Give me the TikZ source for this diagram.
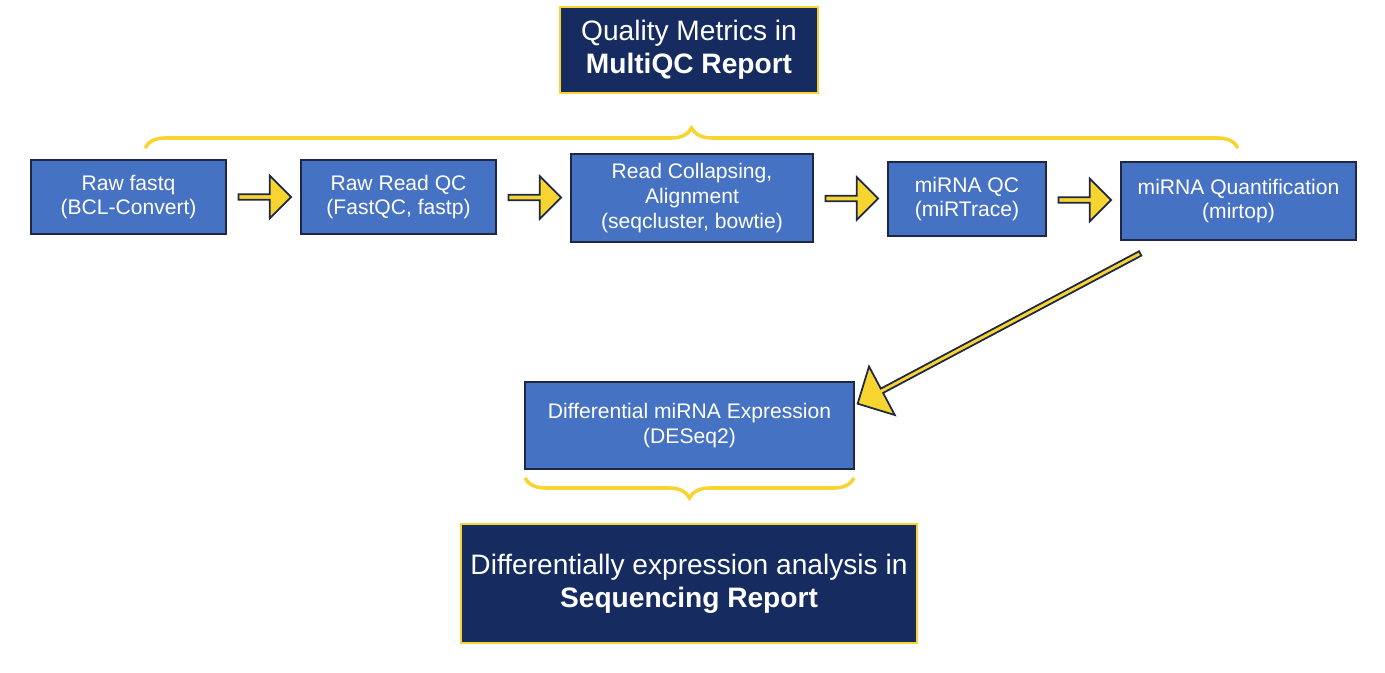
\documentclass[tikz,border=0pt]{standalone}
\usepackage{fontspec}
\setmainfont{Liberation Sans}
\usetikzlibrary{shapes.arrows,decorations.pathreplacing,calc}
\definecolor{boxblue}{RGB}{70,114,196}
\definecolor{navy}{RGB}{22,44,96}
\definecolor{edge}{RGB}{30,40,70}
\definecolor{gold}{RGB}{247,212,48}
\tikzset{
  stepbox/.style={draw=edge, line width=1pt, fill=boxblue, text=white, align=center, font=\fontsize{12}{14}\selectfont, inner sep=0pt},
  report/.style={draw=gold, line width=1.5pt, fill=navy, text=white, align=center, font=\fontsize{16}{19}\selectfont, inner sep=0pt},
  goarrow/.style={single arrow, draw=edge, fill=gold, line width=1pt, minimum height=1.05cm, minimum width=0.85cm, single arrow head extend=0.12cm, inner sep=0pt},
  bracket/.style={draw=gold, line width=2pt, decorate, decoration={brace, amplitude=0.4cm}}
}
\begin{document}
\begin{tikzpicture}
  \useasboundingbox (0,0) rectangle (27.7,-13.46);
  % top report
  \node[report, minimum width=5.16cm, minimum height=1.72cm] (qc) at (13.78,-1.0) {Quality Metrics in\\\textbf{MultiQC Report}};
  % pipeline steps
  \node[stepbox, minimum width=3.9cm, minimum height=1.48cm] (fastq) at (2.57,-3.94) {Raw fastq\\(BCL-Convert)};
  \node[stepbox, minimum width=3.9cm, minimum height=1.48cm] (rawqc) at (7.97,-3.94) {Raw Read QC\\(FastQC, fastp)};
  \node[stepbox, minimum width=4.84cm, minimum height=1.76cm] (align) at (13.84,-3.96) {Read Collapsing,\\Alignment\\(seqcluster, bowtie)};
  \node[stepbox, minimum width=3.16cm, minimum height=1.48cm] (mqc) at (19.34,-3.98) {miRNA QC\\(miRTrace)};
  \node[stepbox, minimum width=4.7cm, minimum height=1.56cm] (quant) at (24.77,-4.02) {miRNA Quantification\\(mirtop)};
  \node[stepbox, minimum width=6.58cm, minimum height=1.74cm] (diff) at (13.79,-8.51) {Differential miRNA Expression\\(DESeq2)};
  % bottom report
  \node[report, minimum width=9.12cm, minimum height=2.38cm] (seq) at (13.78,-11.67) {Differentially expression analysis in\\\textbf{Sequencing Report}};
  % arrows between steps
  \node[goarrow] (a1) at ($(fastq.east)!0.5!(rawqc.west)$) {};
  \node[goarrow] (a2) at ($(rawqc.east)!0.5!(align.west)$) {};
  \node[goarrow] (a3) at ($(align.east)!0.5!(mqc.west)$) {};
  \node[goarrow] (a4) at ($(mqc.east)!0.5!(quant.west)$) {};
  \node[goarrow, minimum height=6.4cm, minimum width=1.1cm, single arrow head extend=0.18cm, rotate=-152] (a5) at (20.0,-6.56) {};
  % braces
  \draw[bracket] (2.9,-2.96) -- (24.76,-2.96);
  \draw[bracket] (17.08,-9.56) -- (10.5,-9.56);
\end{tikzpicture}
\end{document}
